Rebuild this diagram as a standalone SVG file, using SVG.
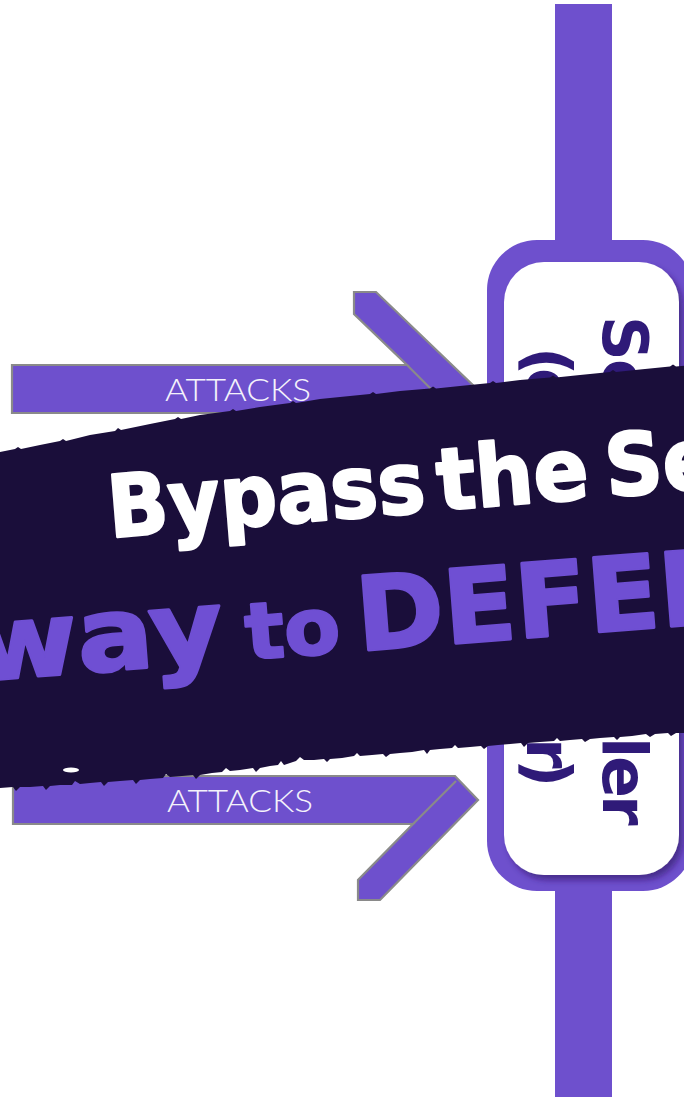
<svg xmlns="http://www.w3.org/2000/svg" width="684" height="1097" viewBox="0 0 684 1097">
  <defs>
    <style>
      .pipe { fill: #6e50cd; }
      .arrow { fill: #6e50cd; stroke: #8a8a8a; stroke-width: 2.2; stroke-linejoin: miter; }
      .seam { fill: none; stroke: #8a8a8a; stroke-width: 2.2; }
      .attacks { font-family: "Lato", "Open Sans", sans-serif; font-weight: 300; font-size: 31px; fill: #f4f2fb; }
      .label { font-family: "DejaVu Sans", "Liberation Sans", sans-serif; font-weight: bold; font-size: 62px; fill: #2f1a78; }
      .head { font-family: "DejaVu Sans", "Liberation Sans", sans-serif; font-weight: bold; stroke-linejoin: round; paint-order: stroke; }
      .white { fill: #ffffff; stroke: #ffffff; stroke-width: 2.5; font-size: 86px; }
      .violet { fill: #6f4fd3; stroke: #6f4fd3; stroke-width: 3; font-size: 102px; }
      .small { font-size: 78px; stroke-width: 2.5; }
    </style>
    <filter id="soft-shadow" x="-10%" y="-10%" width="130%" height="130%">
      <feDropShadow dx="4" dy="5" stdDeviation="3" flood-color="#2a1560" flood-opacity="0.6"/>
    </filter>
  </defs>

  <rect width="684" height="1097" fill="#ffffff"/>

  <!-- connectors: vertical pipe and the two attack arrows -->
  <g id="connectors">
    <rect class="pipe" x="555" y="4" width="57" height="260"/>
    <rect class="pipe" x="555" y="870" width="57" height="227"/>

    <g id="attack-top">
      <polygon class="arrow" points="12,365 407,365 354,314 354,292 376,292 477,389 453,413 12,413"/>
      <line class="seam" x1="407" y1="365" x2="451" y2="409"/>
      <text class="attacks" x="165" y="401" textLength="146" lengthAdjust="spacingAndGlyphs">ATTACKS</text>
    </g>

    <g id="attack-bottom">
      <polygon class="arrow" points="13,776 455,776 478,800 380,900 358,900 358,880 413,824 13,824"/>
      <line class="seam" x1="413" y1="824" x2="456" y2="781"/>
      <text class="attacks" x="167" y="812" textLength="146" lengthAdjust="spacingAndGlyphs">ATTACKS</text>
    </g>
  </g>

  <!-- gate node on the pipe -->
  <g id="gate">
    <rect x="487" y="240" width="206" height="651" rx="50" fill="#6e50cd"/>
    <rect x="504" y="262" width="175" height="613" rx="40" fill="#ffffff" filter="url(#soft-shadow)"/>
    <text class="label" transform="translate(603,316) rotate(90)" x="0 43">Se</text>
    <text class="label" transform="translate(527,347) rotate(90)" x="0 21">(o</text>
    <text class="label" transform="translate(603,0) rotate(90)" x="737 756 795">ler</text>
    <text class="label" transform="translate(527,0) rotate(90)" x="738 759">r)</text>
  </g>

  <!-- brush-stroke banner -->
  <g id="banner">
    <path fill="#1a0e3a" d="M -10,454 L 0,452 L 15,449 L 18,447 L 21,449 L 40,445 L 60,441 L 63,439 L 66,441 L 90,435 L 115,431 L 118,428 L 121,430 L 150,424 L 175,419 L 178,417 L 181,419 L 200,415 L 230,411 L 233,409 L 236,411 L 260,407 L 290,403 L 293,401 L 296,403 L 320,399 L 340,397 L 370,394 L 373,392 L 376,394 L 400,391 L 430,388.5 L 433,386.5 L 436,388.5 L 460,386 L 490,383 L 493,381 L 496,383 L 520,380 L 550,377.5 L 553,375.5 L 556,377.5 L 580,375 L 610,372 L 613,370 L 616,372 L 640,369.5 L 670,366.5 L 673,364.5 L 676,366.5 L 694,365
      L 694,731 L 684,733 L 676,733 L 671,736 L 668,733 L 655,734 L 650,737 L 646,734 L 632,736 L 620,737 L 617,740 L 614,737 L 600,738 L 590,739 L 585,742 L 582,739 L 570,740 L 560,741 L 557,738 L 554,741 L 540,742 L 528,743 L 524,747 L 521,743 L 510,744 L 498,745 L 488,746 L 484,749 L 481,746 L 470,747 L 458,748 L 455,745 L 452,748 L 440,749 L 430,750 L 427,754 L 424,750 L 412,752 L 400,753 L 390,754 L 386,757 L 383,754 L 372,755 L 360,756 L 357,753 L 354,756 L 342,758 L 330,759 L 327,762 L 324,759 L 314,760 L 304,760 L 300,757 L 296,761 L 290,763 L 284,765 L 281,761 L 278,765 L 270,766 L 260,768 L 256,772 L 253,768 L 240,770 L 230,771 L 226,768 L 222,772 L 212,773 L 200,775 L 196,779 L 193,775 L 182,776 L 170,777 L 166,774 L 163,778 L 150,779 L 140,780 L 136,784 L 133,780 L 120,781 L 108,782 L 104,786 L 101,782 L 90,783 L 80,784 L 75,781 L 72,785 L 60,785 L 50,786 L 46,790 L 43,786 L 30,787 L 20,787 L 16,791 L 13,787 L 0,788 L -10,789 Z"/>
    <ellipse cx="71" cy="770" rx="8" ry="2.5" fill="#ffffff"/>

    <g transform="translate(117,537) rotate(-4.7)">
      <text class="head white" x="-7" textLength="318" lengthAdjust="spacingAndGlyphs">Bypass</text>
      <text class="head white" x="323" textLength="152" lengthAdjust="spacingAndGlyphs">the</text>
      <text class="head white" x="492" textLength="112" lengthAdjust="spacingAndGlyphs">Se</text>
    </g>
    <g transform="translate(0,679) rotate(-4.5)">
      <text class="head violet" x="-24" textLength="250" lengthAdjust="spacingAndGlyphs">way</text>
      <text class="head violet small" x="248" textLength="95" lengthAdjust="spacingAndGlyphs">to</text>
      <text class="head violet" x="360" textLength="392" lengthAdjust="spacingAndGlyphs">DEFEN</text>
    </g>
  </g>
</svg>
